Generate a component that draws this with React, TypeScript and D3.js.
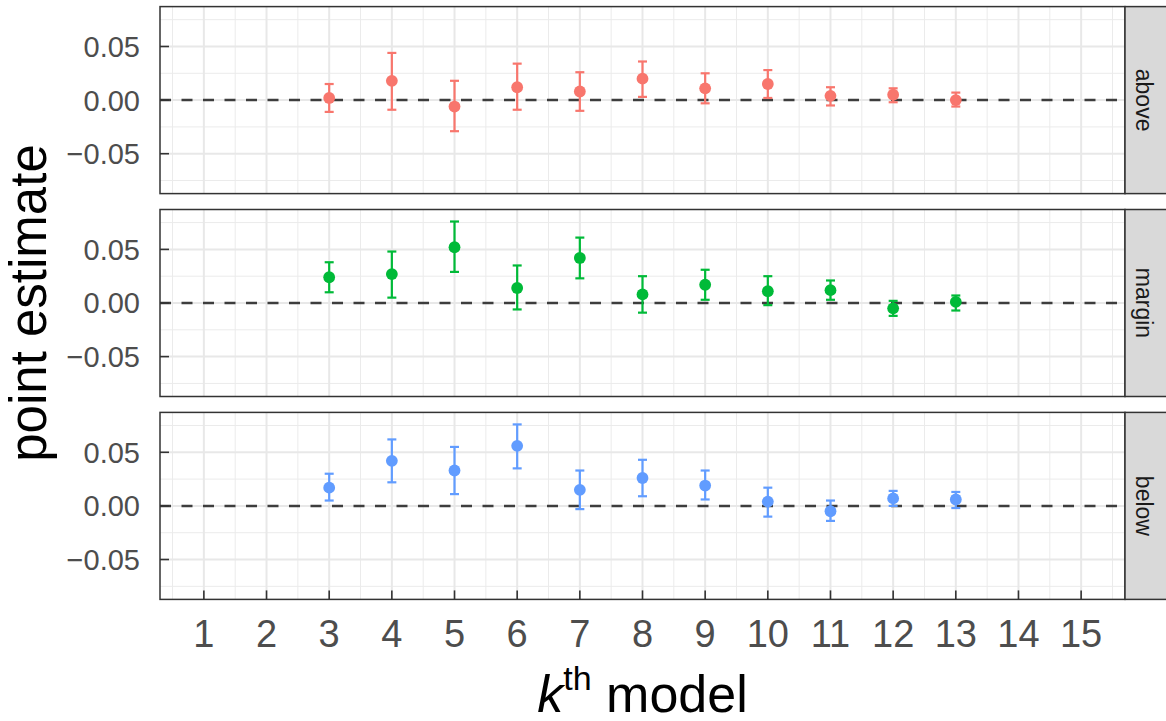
import React, { useEffect, useRef } from 'react';
import * as d3 from 'd3';

// k-th model index for every estimate
const models = [3, 4, 5, 6, 7, 8, 9, 10, 11, 12, 13];

const aboveEst = [0.002, 0.018, -0.006, 0.012, 0.008, 0.020, 0.011, 0.015, 0.004, 0.005, 0.000];
const aboveLo = [-0.011, -0.009, -0.029, -0.009, -0.010, 0.003, -0.003, 0.002, -0.005, -0.002, -0.006];
const aboveHi = [0.015, 0.044, 0.018, 0.034, 0.026, 0.036, 0.025, 0.028, 0.012, 0.011, 0.007];

const marginEst = [0.024, 0.027, 0.052, 0.014, 0.042, 0.008, 0.017, 0.011, 0.012, -0.005, 0.001];
const marginLo = [0.010, 0.005, 0.029, -0.006, 0.023, -0.009, 0.003, -0.002, 0.003, -0.012, -0.007];
const marginHi = [0.038, 0.048, 0.076, 0.035, 0.061, 0.025, 0.031, 0.025, 0.021, 0.002, 0.007];

const belowEst = [0.017, 0.042, 0.033, 0.056, 0.015, 0.026, 0.019, 0.004, -0.005, 0.007, 0.006];
const belowLo = [0.005, 0.022, 0.011, 0.035, -0.003, 0.009, 0.006, -0.010, -0.014, 0.000, -0.002];
const belowHi = [0.030, 0.062, 0.055, 0.076, 0.033, 0.043, 0.033, 0.017, 0.005, 0.014, 0.013];

const panelNames = ['above', 'margin', 'below'];
const panelColors = ['#F8766D', '#00BA38', '#619CFF'];

const xTicks = d3.range(1, 16);
const yTicks = [-0.05, 0, 0.05];

const FONT = '"Liberation Sans", Arial, Helvetica, sans-serif';

const App = () => {
  const ref = useRef<SVGSVGElement | null>(null);

  useEffect(() => {
    if (!ref.current) return;
    const svg = d3.select(ref.current);
    svg.selectAll('*').remove();

    const left = 160, right = 1125;
    const top0 = 6.6, ph = 187, gap = 15.9;

    const x = d3.scaleLinear().domain([0.3, 15.7]).range([left, right]);
    const xMinor = d3.range(0.5, 16, 1);
    const yMinor = [-0.075, -0.025, 0.025, 0.075];

    const series = [
      { est: aboveEst, lo: aboveLo, hi: aboveHi },
      { est: marginEst, lo: marginLo, hi: marginHi },
      { est: belowEst, lo: belowLo, hi: belowHi },
    ];

    series.forEach((s, i) => {
      const top = top0 + i * (ph + gap);
      const y = d3.scaleLinear().domain([-0.0872, 0.0872]).range([top + ph, top]);
      const g = svg.append('g');
      const rows = models.map((m, j) => ({ m, est: s.est[j], lo: s.lo[j], hi: s.hi[j] }));

      g.append('rect')
        .attr('x', left).attr('y', top)
        .attr('width', right - left).attr('height', ph)
        .attr('fill', '#fff');

      // minor grid
      g.selectAll('.xmin').data(xMinor).enter().append('line')
        .attr('x1', d => x(d)).attr('x2', d => x(d))
        .attr('y1', top).attr('y2', top + ph)
        .attr('stroke', '#ebebeb').attr('stroke-width', 1);
      g.selectAll('.ymin').data(yMinor).enter().append('line')
        .attr('x1', left).attr('x2', right)
        .attr('y1', d => y(d)).attr('y2', d => y(d))
        .attr('stroke', '#ebebeb').attr('stroke-width', 1);

      // major grid
      g.selectAll('.xmaj').data(xTicks).enter().append('line')
        .attr('x1', d => x(d)).attr('x2', d => x(d))
        .attr('y1', top).attr('y2', top + ph)
        .attr('stroke', '#e8e8e8').attr('stroke-width', 2);
      g.selectAll('.ymaj').data(yTicks).enter().append('line')
        .attr('x1', left).attr('x2', right)
        .attr('y1', d => y(d)).attr('y2', d => y(d))
        .attr('stroke', '#e8e8e8').attr('stroke-width', 2);

      // reference line at zero
      g.append('line')
        .attr('x1', left).attr('x2', right)
        .attr('y1', y(0)).attr('y2', y(0))
        .attr('stroke', '#3d3d3d').attr('stroke-width', 2.5)
        .attr('stroke-dasharray', '11,10.5');

      // error bars
      const cap = 4.5;
      const eb = g.selectAll('.eb').data(rows).enter().append('g')
        .attr('stroke', panelColors[i]).attr('stroke-width', 2.2);
      eb.append('line')
        .attr('x1', d => x(d.m)).attr('x2', d => x(d.m))
        .attr('y1', d => y(d.lo)).attr('y2', d => y(d.hi));
      eb.append('line')
        .attr('x1', d => x(d.m) - cap).attr('x2', d => x(d.m) + cap)
        .attr('y1', d => y(d.lo)).attr('y2', d => y(d.lo));
      eb.append('line')
        .attr('x1', d => x(d.m) - cap).attr('x2', d => x(d.m) + cap)
        .attr('y1', d => y(d.hi)).attr('y2', d => y(d.hi));

      g.selectAll('.pt').data(rows).enter().append('circle')
        .attr('cx', d => x(d.m)).attr('cy', d => y(d.est))
        .attr('r', 5.9).attr('fill', panelColors[i]);

      // y ticks (inward) and labels
      g.selectAll('.yt').data(yTicks).enter().append('line')
        .attr('x1', left).attr('x2', left + 9)
        .attr('y1', d => y(d)).attr('y2', d => y(d))
        .attr('stroke', '#333').attr('stroke-width', 1.6);
      g.selectAll('.yl').data(yTicks).enter().append('text')
        .attr('x', 140).attr('y', d => y(d))
        .attr('dy', '0.36em')
        .attr('text-anchor', 'end')
        .attr('font-family', FONT).attr('font-size', 29)
        .attr('fill', '#4d4d4d')
        .text(d => d3.format('.2f')(d).replace('-', '\u2212'));

      // x ticks only on the bottom panel
      if (i === series.length - 1) {
        g.selectAll('.xt').data(xTicks).enter().append('line')
          .attr('x1', d => x(d)).attr('x2', d => x(d))
          .attr('y1', top + ph).attr('y2', top + ph - 9)
          .attr('stroke', '#333').attr('stroke-width', 1.6);
        g.selectAll('.xl').data(xTicks).enter().append('text')
          .attr('x', d => x(d)).attr('y', 647)
          .attr('text-anchor', 'middle')
          .attr('font-family', FONT).attr('font-size', 38)
          .attr('fill', '#4d4d4d')
          .text(d => d);
      }

      // panel border
      g.append('rect')
        .attr('x', left).attr('y', top)
        .attr('width', right - left).attr('height', ph)
        .attr('fill', 'none').attr('stroke', '#333').attr('stroke-width', 1.5);

      // facet strip
      g.append('rect')
        .attr('x', right).attr('y', top)
        .attr('width', 50).attr('height', ph)
        .attr('fill', '#d9d9d9').attr('stroke', '#333').attr('stroke-width', 1.5);
      g.append('text')
        .attr('transform', `translate(1144,${top + ph / 2}) rotate(90)`)
        .attr('text-anchor', 'middle').attr('dy', '0.35em')
        .attr('font-family', FONT).attr('font-size', 23)
        .attr('fill', '#1a1a1a')
        .text(panelNames[i]);
    });

    // axis titles
    svg.append('text')
      .attr('transform', `translate(46,${top0 + (3 * ph + 2 * gap) / 2}) rotate(-90)`)
      .attr('text-anchor', 'middle')
      .attr('font-family', FONT).attr('font-size', 51)
      .attr('fill', '#000')
      .text('point estimate');

    const xt = svg.append('text')
      .attr('x', (left + right) / 2).attr('y', 711.5)
      .attr('text-anchor', 'middle')
      .attr('font-family', FONT).attr('font-size', 52)
      .attr('fill', '#000');
    xt.append('tspan').attr('font-style', 'italic').text('k');
    xt.append('tspan').attr('font-size', 34).attr('dy', -22).text('th');
    xt.append('tspan').attr('dy', 22).text(' model');
  }, []);

  return (
    <svg
      ref={ref}
      width={1166}
      height={721}
      style={{ position: 'absolute', left: 0, top: 0, background: '#fff' }}
    />
  );
};

export default App;
